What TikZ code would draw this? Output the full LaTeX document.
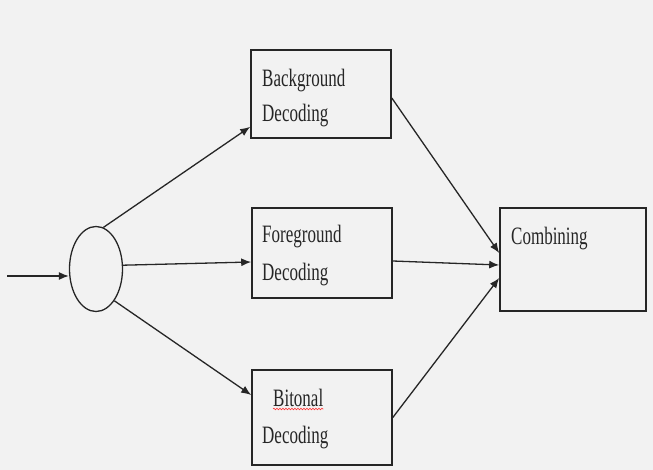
\documentclass[tikz,border=0pt]{standalone}
\usepackage{fontspec}
\setmainfont{Liberation Serif}[FakeStretch=0.68]
\usetikzlibrary{arrows.meta,shapes.geometric,decorations.pathmorphing}
\definecolor{bgc}{HTML}{F2F2F2}
\definecolor{ink}{HTML}{262626}
\tikzset{
  box/.style={draw=ink,line width=1.6pt,minimum width=140pt,inner sep=0pt},
  lbl/.style={anchor=base west,inner sep=0pt,text=ink,font=\fontsize{25}{25}\selectfont},
  conn/.style={draw=ink,line width=1.3pt,-{Latex[length=10pt,width=8pt]}},
}
\begin{document}
\begin{tikzpicture}[x=1pt,y=-1pt]
\fill[bgc] (0,0) rectangle (653,470);
\useasboundingbox (0,0) rectangle (653,470);
% boxes
\node[box,minimum height=88pt] (bg) at (321,94) {};
\node[box,minimum height=90pt] (fg) at (322,253) {};
\node[box,minimum height=95pt] (bt) at (322,417.5) {};
\node[box,minimum width=146pt,minimum height=103pt] (cb) at (573,259.5) {};
\node[draw=ink,line width=1.3pt,ellipse,minimum width=53pt,minimum height=85pt,inner sep=0pt] (c) at (96,269) {};
% labels
\node[lbl] (t1) at (262,87) {Background};
\node[lbl] (t2) at (262,122) {Decoding};
\node[lbl] (t3) at (262,243) {Foreground};
\node[lbl] (t4) at (262,281) {Decoding};
\node[lbl] (t5) at (273,406) {Bitonal};
\node[lbl] (t6) at (262,443) {Decoding};
\node[lbl] (t7) at (511,245) {Combining};
\draw[red!80,line width=0.6pt,decorate,decoration={snake,amplitude=0.8pt,segment length=3pt}]
  ([yshift=-3pt]t5.base west) -- ([yshift=-3pt]t5.base east);
% connectors
\coordinate (in) at (7,276);
\draw[conn] (in) -- (in -| c.west);
\draw[conn] (c.80) -- ([yshift=12pt]bg.south west);
\draw[conn] (c.8) -- ([yshift=-9pt]fg.west);
\draw[conn] (c.-60) -- ([yshift=22.5pt]bt.west);
\draw[conn] ([yshift=-4pt]bg.east) -- ([yshift=6.5pt]cb.west);
\draw[conn] ([yshift=-8pt]fg.east) -- ([yshift=-5.5pt]cb.west);
\draw[conn] (bt.east) -- ([yshift=-18.5pt]cb.west);
\end{tikzpicture}
\end{document}
